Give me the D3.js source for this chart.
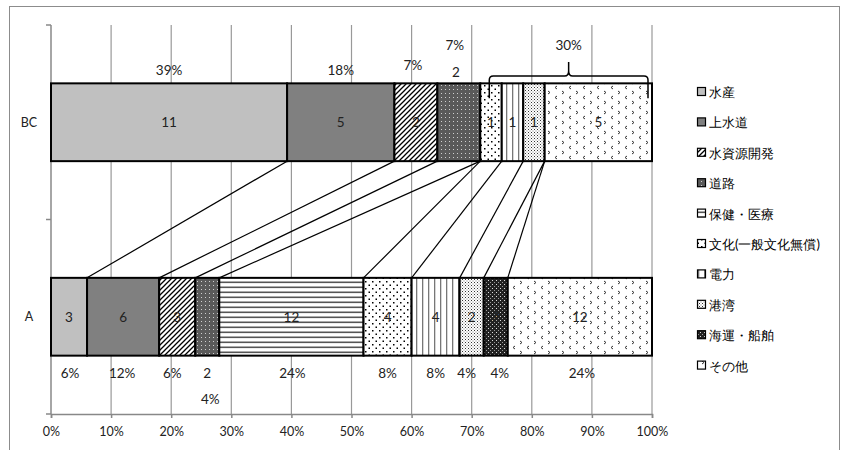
<!DOCTYPE html>
<html><head><meta charset="utf-8">
<script src="https://cdn.jsdelivr.net/npm/d3@7"></script>
<style>
body{margin:0;background:#fff;}
svg{display:block;}
text{font-family:Lato,"Liberation Sans",sans-serif;}
</style></head>
<body>
<script>
// ---- data ----
const categories = ['BC','A'];
const seriesNames = ['水産','上水道','水資源開発','道路','保健・医療','文化(一般文化無償)','電力','港湾','海運・船舶','その他'];
const bcValues = [11,5,2,2,0,1,1,1,0,5];
const aValues  = [3,6,3,2,12,4,4,2,2,12];
const bcPctLabels = ['39%','18%','7%','7%','','','','','',''];
const aPctLabels  = ['6%','12%','6%','4%','24%','8%','8%','4%','4%','24%'];
const braceLabel = '30%';
const xTickValues = [0,0.1,0.2,0.3,0.4,0.5,0.6,0.7,0.8,0.9,1.0];
const xTickLabels = ['0%','10%','20%','30%','40%','50%','60%','70%','80%','90%','100%'];

// ---- layout ----
const W=845,H=450;
const svg=d3.select('body').append('svg').attr('width',W).attr('height',H);
const x=d3.scaleLinear().domain([0,1]).range([51,652]);
const y=d3.scaleBand().domain(categories).range([25,414]).paddingInner(0.6).paddingOuter(0.3);
const bw=y.bandwidth();

// frame
svg.append('rect').attr('x',9.5).attr('y',6.5).attr('width',830).attr('height',460)
  .attr('fill','none').attr('stroke','#8c8c8c').attr('stroke-width',1);

// patterns
const defs=svg.append('defs');
function pat(id,w,h,bg,draw){
  const p=defs.append('pattern').attr('id',id).attr('patternUnits','userSpaceOnUse')
    .attr('width',w).attr('height',h);
  p.append('rect').attr('width',w).attr('height',h).attr('fill',bg);
  draw(p);
}
pat('p-diag',5,5,'#fff',p=>p.append('path').attr('d','M0,5L5,0M-1,1L1,-1M4,6L6,4').attr('stroke','#000').attr('stroke-width',1.3));
pat('p-road',4,4,'#5a5a5a',p=>{p.append('rect').attr('x',1).attr('y',1).attr('width',1).attr('height',1).attr('fill','#d0d0d0');});
pat('p-hl',5,5,'#fff',p=>p.append('rect').attr('x',0).attr('y',1.5).attr('width',5).attr('height',1.6).attr('fill','#555'));
pat('p-dots',7,7,'#fff',p=>{p.append('rect').attr('x',1).attr('y',1).attr('width',1.5).attr('height',1.5).attr('fill','#000');
  p.append('rect').attr('x',4.5).attr('y',4.5).attr('width',1.5).attr('height',1.5).attr('fill','#000');});
pat('p-vl',6,6,'#fff',p=>p.append('rect').attr('x',2).attr('y',0).attr('width',1.3).attr('height',6).attr('fill','#777'));
pat('p-fine',3,3,'#fff',p=>{p.append('rect').attr('x',0).attr('y',0).attr('width',1).attr('height',1).attr('fill','#333');
  p.append('rect').attr('x',1.5).attr('y',1.5).attr('width',1).attr('height',1).attr('fill','#777');});
pat('p-check',4,4,'#222',p=>{p.append('rect').attr('x',0).attr('y',0).attr('width',1).attr('height',1).attr('fill','#ddd');
  p.append('rect').attr('x',2).attr('y',2).attr('width',1).attr('height',1).attr('fill','#999');});
pat('p-chev',14,10,'#fff',p=>{p.append('path').attr('d','M2,1L4,2.5L2,4').attr('fill','none').attr('stroke','#333').attr('stroke-width',1);
  p.append('path').attr('d','M11,6L9,7.5L11,9').attr('fill','none').attr('stroke','#333').attr('stroke-width',1);});
const fills=['#c0c0c0','#808080','url(#p-diag)','url(#p-road)','url(#p-hl)','url(#p-dots)','url(#p-vl)','url(#p-fine)','url(#p-check)','url(#p-chev)'];

// gridlines
svg.append('g').selectAll('line').data(xTickValues.slice(1)).join('line')
  .attr('x1',d=>x(d)).attr('x2',d=>x(d)).attr('y1',25).attr('y2',414)
  .attr('stroke','#999').attr('stroke-width',1.2);

// axes
const xAxis=svg.append('g').attr('transform','translate(0,414)')
  .call(d3.axisBottom(x).tickValues(xTickValues).tickFormat((d,i)=>xTickLabels[i]).tickSizeOuter(0).tickSize(4).tickPadding(9));
xAxis.select('.domain').attr('stroke','#888').attr('stroke-width',1.5);
xAxis.selectAll('.tick line').attr('stroke','#888').attr('stroke-width',1.5);
xAxis.selectAll('text').attr('font-size',12.5).attr('fill','#222').attr('font-family','Lato,sans-serif');

const yAxisG=svg.append('g');
yAxisG.append('line').attr('x1',51).attr('x2',51).attr('y1',25).attr('y2',414).attr('stroke','#888').attr('stroke-width',1.5);
const yTicks=[25, 25+y.step(), 414];
yAxisG.selectAll('line.t').data(yTicks).join('line').attr('class','t')
  .attr('x1',46).attr('x2',51).attr('y1',d=>d).attr('y2',d=>d).attr('stroke','#888').attr('stroke-width',1.5);
yAxisG.selectAll('text').data(categories).join('text')
  .attr('x',29).attr('y',d=>y(d)+bw/2).attr('text-anchor','middle').attr('dominant-baseline','central')
  .attr('font-size',12.5).attr('fill','#222').text(d=>d);

// stacks
const bcTotal=d3.sum(bcValues), aTotal=d3.sum(aValues);
function stack(vals,total){let c=0;return vals.map(v=>{const s=c/total;c+=v;return {s,e:c/total,v};});}
const bcStack=stack(bcValues,bcTotal), aStack=stack(aValues,aTotal);

// series lines
const bcBottom=y('BC')+bw, aTop=y('A');
svg.append('g').selectAll('line').data(d3.range(seriesNames.length-1)).join('line')
  .attr('x1',i=>x(bcStack[i].e)).attr('y1',bcBottom).attr('x2',i=>x(aStack[i].e)).attr('y2',aTop)
  .attr('stroke','#000').attr('stroke-width',1.2);

// bars
function drawBar(st,cat){
  const g=svg.append('g');
  g.selectAll('rect').data(st.map((d,i)=>({...d,i})).filter(d=>d.v>0)).join('rect')
    .attr('x',d=>x(d.s)).attr('y',y(cat)).attr('width',d=>x(d.e)-x(d.s)).attr('height',bw)
    .attr('fill',d=>fills[d.i]).attr('stroke','#000').attr('stroke-width',2);
  return g;
}
drawBar(bcStack,'BC'); drawBar(aStack,'A');

// in-bar count labels (道路 excluded: placed outside)
const lblFont=13.5;
function inLabels(st,cat){
  svg.append('g').selectAll('text').data(st.map((d,i)=>({...d,i})).filter(d=>d.v>0&&d.i!==3)).join('text')
    .attr('x',d=>x((d.s+d.e)/2)).attr('y',y(cat)+bw/2).attr('text-anchor','middle').attr('dominant-baseline','central')
    .attr('font-size',lblFont).attr('fill','#222').text(d=>d.v);
}
inLabels(bcStack,'BC'); inLabels(aStack,'A');

// BC labels above
const bcLblY=[70,70,65,45];
const bcLblDx=[0,0,-3,-4];
bcPctLabels.forEach((t,i)=>{ if(!t) return;
  svg.append('text').attr('x',x((bcStack[i].s+bcStack[i].e)/2)+bcLblDx[i]).attr('y',bcLblY[i])
    .attr('text-anchor','middle').attr('dominant-baseline','central').attr('font-size',lblFont).attr('fill','#222').text(t);
});
svg.append('text').attr('x',x((bcStack[3].s+bcStack[3].e)/2)-3).attr('y',72)
  .attr('text-anchor','middle').attr('dominant-baseline','central').attr('font-size',lblFont).attr('fill','#222').text(bcValues[3]);

// brace
const bx0=x(bcStack[5].s)+9, bx1=x(1)-4, bm=(bx0+bx1)/2, by=76, bEnd=y('BC')+15;
svg.append('path').attr('d',
  `M${bx0},${bEnd}L${bx0},${by+4}Q${bx0},${by} ${bx0+4},${by}L${bm-4},${by}Q${bm},${by} ${bm},${by-5}L${bm},${by-14}`+
  `M${bm},${by-5}Q${bm},${by} ${bm+4},${by}L${bx1-4},${by}Q${bx1},${by} ${bx1},${by+4}L${bx1},${bEnd}`)
  .attr('fill','none').attr('stroke','#000').attr('stroke-width',1.5);
svg.append('text').attr('x',bm).attr('y',45).attr('text-anchor','middle').attr('dominant-baseline','central')
  .attr('font-size',lblFont).attr('fill','#222').text(braceLabel);

// A labels below
const aDx=[1,-1,-5,0,1,0,0,-5,4,2];
aPctLabels.forEach((t,i)=>{
  const cx=x((aStack[i].s+aStack[i].e)/2)+aDx[i];
  if(i===3){
    svg.append('text').attr('x',cx).attr('y',373).attr('text-anchor','middle').attr('dominant-baseline','central')
      .attr('font-size',lblFont).attr('fill','#222').text(aValues[3]);
    svg.append('text').attr('x',cx+3).attr('y',399).attr('text-anchor','middle').attr('dominant-baseline','central')
      .attr('font-size',lblFont).attr('fill','#222').text(t);
  } else {
    svg.append('text').attr('x',cx).attr('y',373).attr('text-anchor','middle').attr('dominant-baseline','central')
      .attr('font-size',lblFont).attr('fill','#222').text(t);
  }
});

// legend
const lg=svg.append('g');
seriesNames.forEach((n,i)=>{
  const cy=92+i*30.4;
  lg.append('rect').attr('x',697.5).attr('y',cy-4.5).attr('width',8).attr('height',8)
    .attr('fill',fills[i]).attr('stroke','#000').attr('stroke-width',1.2);
  lg.append('text').attr('x',709).attr('y',cy).attr('dominant-baseline','central')
    .attr('font-family','"Noto Sans CJK JP",sans-serif').attr('font-size',13).attr('fill','#000').text(n);
});
</script>
</body></html>
